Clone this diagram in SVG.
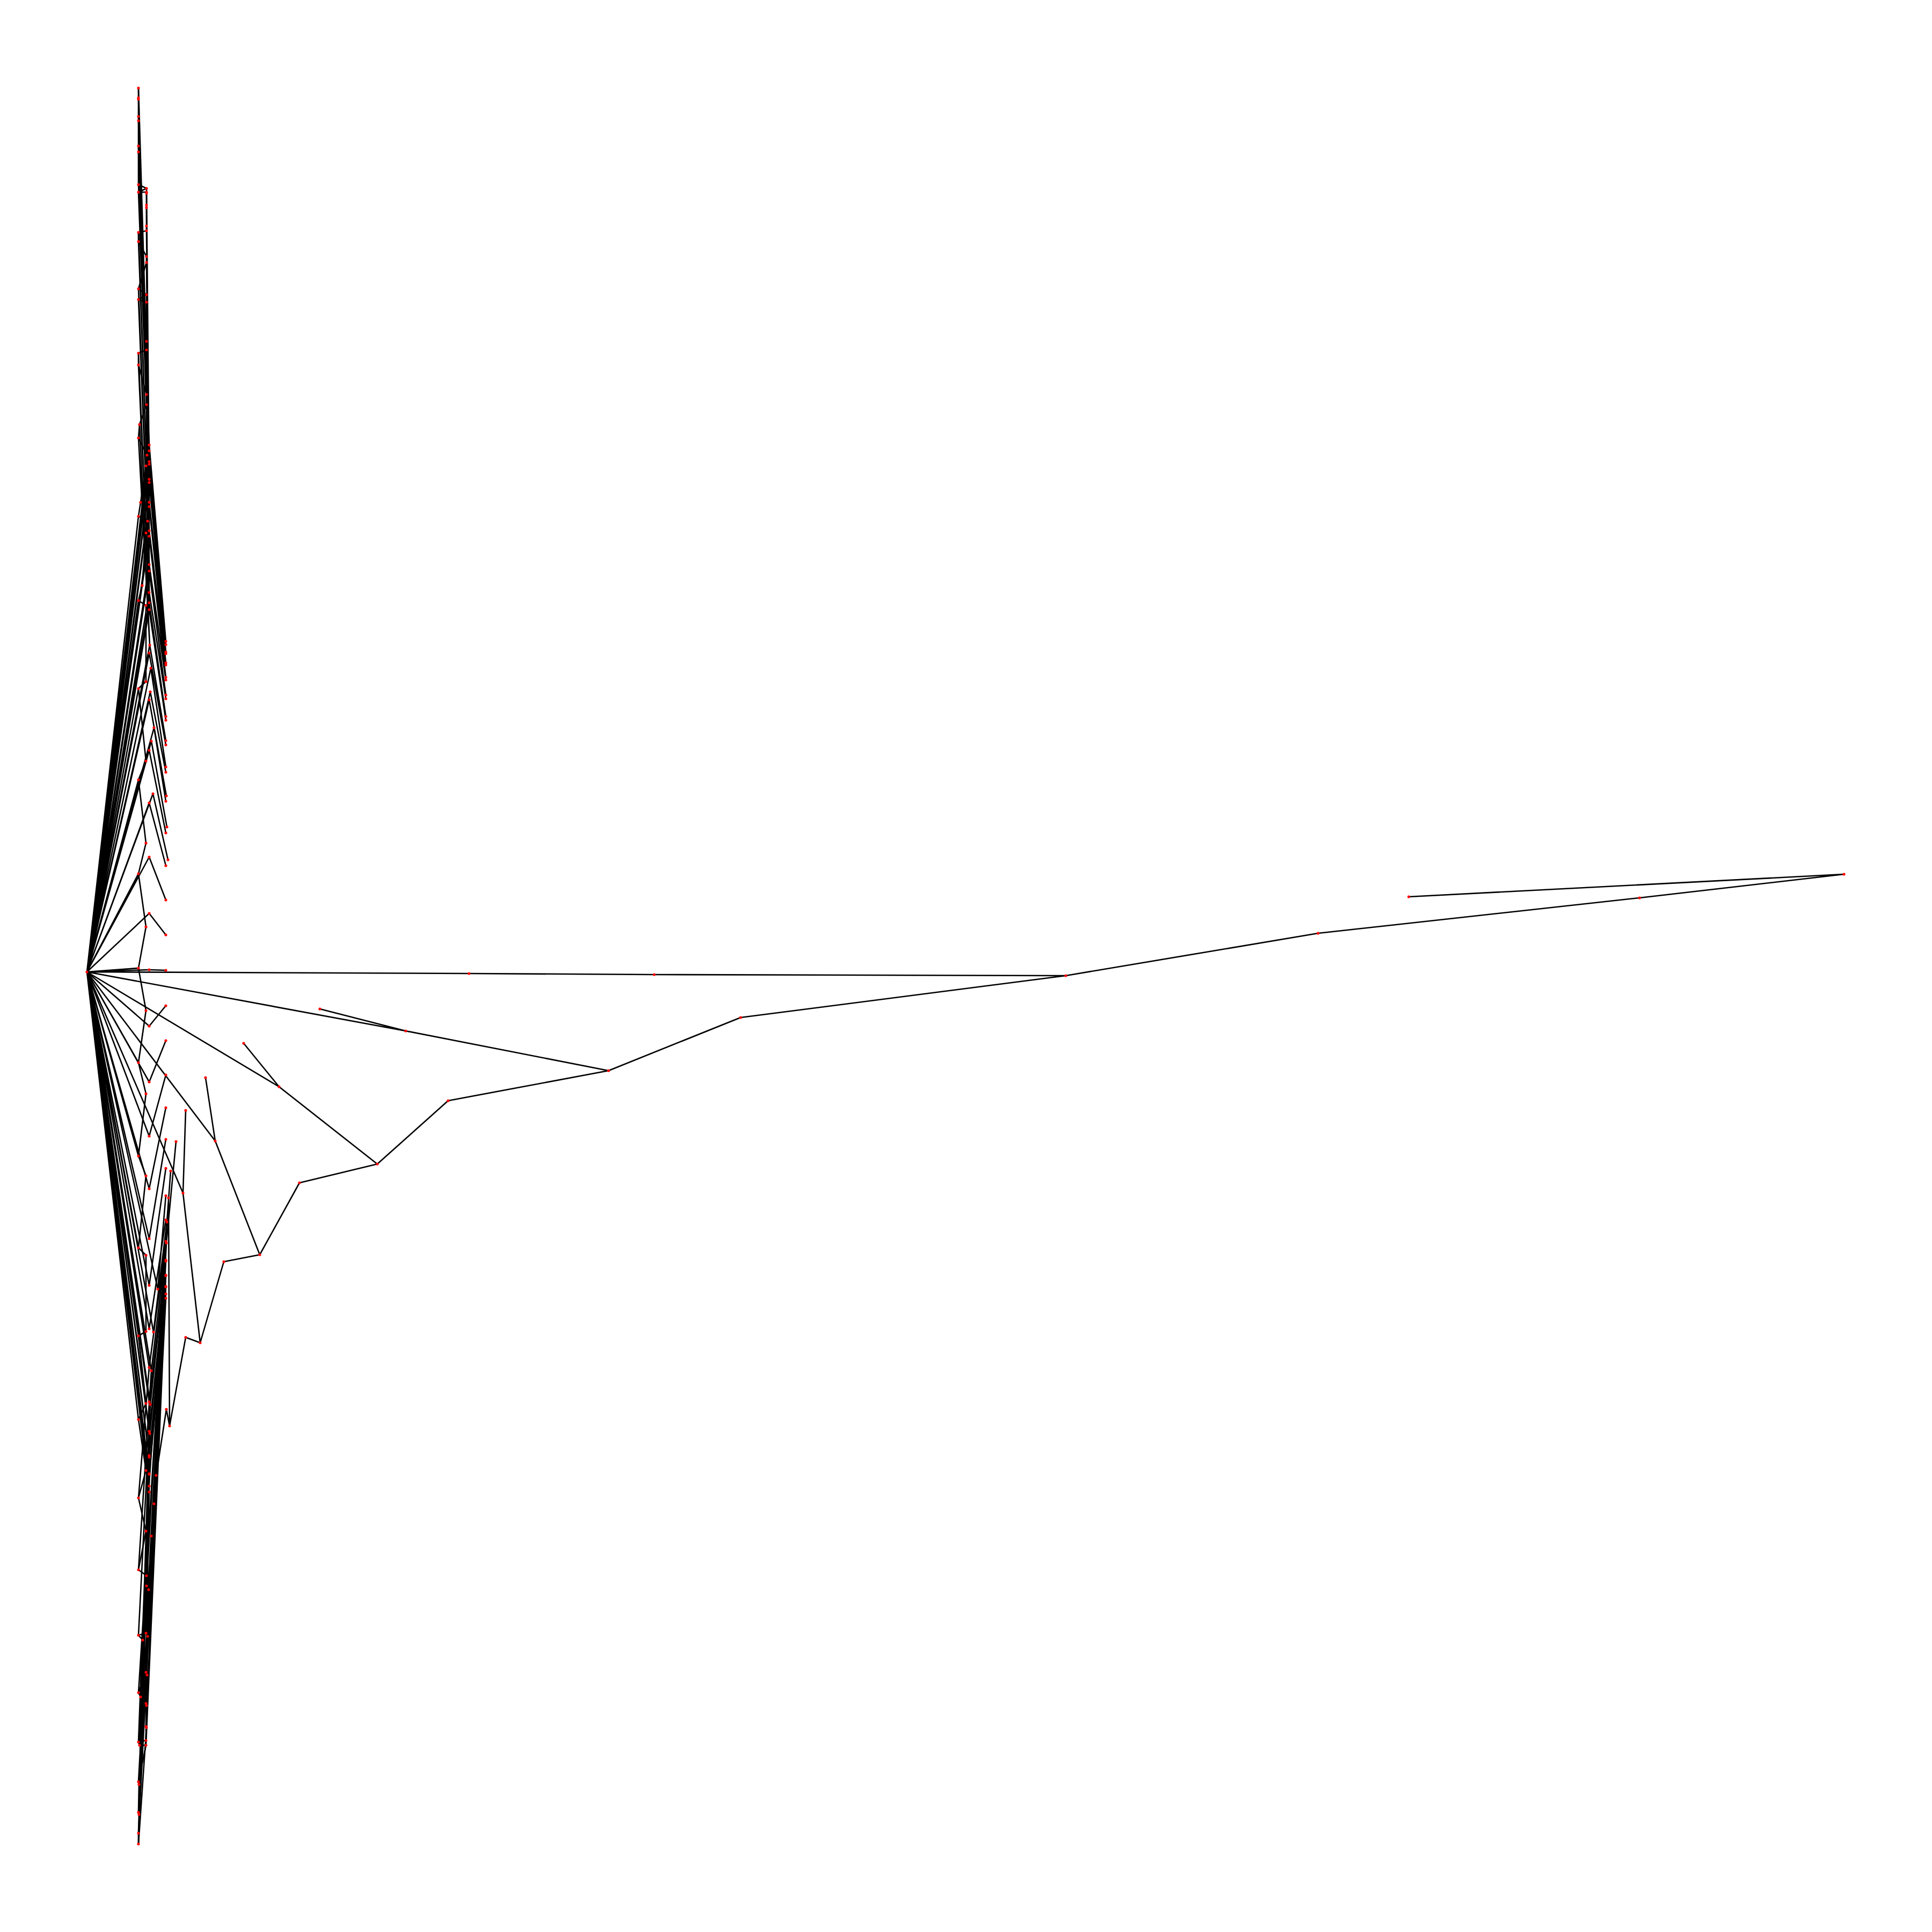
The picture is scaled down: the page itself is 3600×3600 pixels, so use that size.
<svg xmlns="http://www.w3.org/2000/svg" width="3600" height="3600" viewBox="0 0 3600 3600">
<style>
#edges path{stroke:#000;stroke-width:2.6;fill:none;stroke-linecap:round;stroke-linejoin:round}
#nodes circle{fill:#ff0000;stroke:none}
</style>
<rect width="3600" height="3600" fill="#ffffff"/>
<g id="edges">
<path d="M258 164L258 182L258 185L258 217L258 225L258 272L258 283L258 344L273 351L258 358L273 358L273 360L273 382L273 387L273 421L273 430L258 433L258 450L273 478L273 489L258 538L273 549L258 558L273 563L273 636L273 652L258 658L258 680L273 735L273 754L260 791L258 816L274 848L272 868L262 936L258 962L275 971L272 993L265 1091L258 1119L272 1128L272 1270L258 1283L272 1418L258 1453L272 1571L258 1628L272 1727L258 1804"/>
<path d="M258 1804L272 1883L258 1980L272 2038L258 2154L272 2191L258 2325L272 2339L272 2481L258 2489L272 2615L258 2645L272 2740L258 2791L272 2853L258 2925L273 2936L273 2955L272 3043L258 3047L266 3056L272 3116L258 3154L262 3162L272 3174L272 3217L272 3243L258 3246L260 3252L272 3252L258 3320L259 3325L258 3377L259 3381L258 3416L258 3436"/>
<path d="M162 1811L278 829M162 1811L278 840M162 1811L278 860M162 1811L278 865M162 1811L278 893M162 1811L278 899M162 1811L278 936M162 1811L278 944M162 1811L278 989M162 1811L278 999M162 1811L278 1052M162 1811L278 1064M162 1811L278 1104M162 1811L278 1123M162 1811L278 1136M162 1811L279 1202M162 1811L278 1217M162 1811L281 1245M162 1811L280 1289M162 1811L278 1304M162 1811L287 1356M162 1811L282 1381M162 1811L278 1398M162 1811L285 1479M162 1811L278 1496M162 1811L278 1597M162 1811L278 1702M162 1811L278 1807M162 1811L258 962M162 1811L258 1119M162 1811L258 1283M162 1811L258 1453M162 1811L258 1628M162 1811L258 1804"/>
<path d="M278 865L309 1195M278 893L309 1201M278 899L309 1215M278 936L309 1218M278 944L309 1235M278 989L309 1239M278 999L309 1262M278 1052L309 1267M278 1064L309 1295M278 1104L309 1302M278 1123L309 1335M278 1136L309 1342M279 1202L309 1380M278 1217L309 1388M281 1245L309 1429M280 1289L309 1439M278 1304L310 1483M287 1356L309 1493M282 1381L311 1541M278 1398L309 1552M285 1479L313 1602M278 1496L309 1613M278 1597L309 1677M278 1702L309 1742M278 1807L309 1808M278 829L309 1195M278 840L309 1201M278 860L309 1215"/>
<path d="M258 164L278 829M258 182L278 829M258 185L278 840M258 217L278 840M258 225L278 860M258 272L278 860M258 283L278 865M258 344L278 865M273 351L278 893M258 358L278 893M273 358L278 899M273 360L278 899M273 382L278 936M273 387L278 936M273 421L278 944M273 430L278 944M258 433L278 989M258 450L278 989M273 478L278 999M273 489L278 999M258 538L278 1052M273 549L278 1052M258 558L278 1064M273 563L278 1064M273 636L278 1104M273 652L278 1104M258 658L278 1123M258 680L278 1123M273 735L278 1136M273 754L278 1136M260 791L279 1202M258 816L279 1202"/>
<path d="M162 1811L278 1912M162 1811L278 2016M162 1811L278 2117M162 1811L278 2215M162 1811L278 2308M162 1811L278 2395M162 1811L294 2402M162 1811L278 2476M162 1811L286 2482M162 1811L278 2548M162 1811L282 2554M162 1811L278 2612M162 1811L280 2617M162 1811L278 2667M162 1811L279 2671M162 1811L278 2712M162 1811L278 2715M162 1811L278 2746M162 1811L278 2747M162 1811L278 2769M162 1811L278 2780M162 1811L258 1980M162 1811L258 2154M162 1811L258 2325M162 1811L258 2489M162 1811L258 2645"/>
<path d="M278 1912L309 1874M278 2016L309 1939M278 2117L309 2003M278 2215L309 2064M278 2308L309 2123M278 2395L309 2177M294 2402L309 2228M278 2476L309 2273M286 2482L311 2277M278 2548L309 2313M282 2554L310 2316M278 2612L309 2348M280 2617L309 2350M278 2667L309 2376M279 2671L309 2377M278 2712L309 2397M278 2715L309 2398M278 2746L309 2411M278 2747L309 2419"/>
<path d="M258 3436L278 2780M258 3416L309 2419M259 3381L278 2769M258 3377L309 2411M259 3325L278 2747M258 3320L309 2398M272 3252L309 2397M260 3252L278 2746M258 3246L278 2715M272 3243L309 2377M272 3217L309 2376M272 3174L278 2712M262 3162L279 2671M258 3154L309 2350M272 3116L309 2348M266 3056L278 2667M258 3047L280 2617M272 3043L310 2316M273 2955L309 2313M273 2936L278 2612M258 2925L282 2554M272 2853L311 2277M258 2791L278 2548"/>
<path d="M162 1811L401 2126M383 2008L401 2126M401 2126L484 2338M484 2338L417 2351M417 2351L373 2502M373 2502L346 2492M346 2492L316 2657M341 2223L373 2502M346 2069L341 2223M162 1811L341 2223M328 2127L310 2316M318 2182L311 2277M314 2232L316 2657L310 2626L291 2749L287 2802L282 2862L277 2962L275 3049L274 3121L273 3178L273 3219L258 3436"/>
<path d="M162 1811L874 1814L1219 1816L1986 1818M1986 1818L2456 1739L3055 1673L3436 1629L2625 1671M1986 1818L1380 1896L1134 1995M162 1811L756 1921L1134 1995M596 1880L756 1921M1134 1995L835 2051L703 2169L558 2204L484 2338M162 1811L520 2025L703 2169M454 1944L520 2025"/>
</g>
<g id="nodes">
<g id="hub"><circle cx="162" cy="1811" r="2.6"/></g>
<g id="u1"><circle cx="258" cy="164" r="2.6"/></g>
<g id="u2"><circle cx="258" cy="182" r="2.6"/></g>
<g id="u3"><circle cx="258" cy="185" r="2.6"/></g>
<g id="u4"><circle cx="258" cy="217" r="2.6"/></g>
<g id="u5"><circle cx="258" cy="225" r="2.6"/></g>
<g id="u6"><circle cx="258" cy="272" r="2.6"/></g>
<g id="u7"><circle cx="258" cy="283" r="2.6"/></g>
<g id="u8"><circle cx="258" cy="344" r="2.6"/></g>
<g id="u9"><circle cx="273" cy="351" r="2.6"/></g>
<g id="u10"><circle cx="258" cy="358" r="2.6"/></g>
<g id="u11"><circle cx="273" cy="358" r="2.6"/></g>
<g id="u12"><circle cx="273" cy="360" r="2.6"/></g>
<g id="u13"><circle cx="273" cy="382" r="2.6"/></g>
<g id="u14"><circle cx="273" cy="387" r="2.6"/></g>
<g id="u15"><circle cx="273" cy="421" r="2.6"/></g>
<g id="u16"><circle cx="273" cy="430" r="2.6"/></g>
<g id="u17"><circle cx="258" cy="433" r="2.6"/></g>
<g id="u18"><circle cx="258" cy="450" r="2.6"/></g>
<g id="u19"><circle cx="273" cy="478" r="2.6"/></g>
<g id="u20"><circle cx="273" cy="489" r="2.6"/></g>
<g id="u21"><circle cx="258" cy="538" r="2.6"/></g>
<g id="u22"><circle cx="273" cy="549" r="2.6"/></g>
<g id="u23"><circle cx="258" cy="558" r="2.6"/></g>
<g id="u24"><circle cx="273" cy="563" r="2.6"/></g>
<g id="u25"><circle cx="273" cy="636" r="2.6"/></g>
<g id="u26"><circle cx="273" cy="652" r="2.6"/></g>
<g id="u27"><circle cx="258" cy="658" r="2.6"/></g>
<g id="u28"><circle cx="258" cy="680" r="2.6"/></g>
<g id="u29"><circle cx="273" cy="735" r="2.6"/></g>
<g id="u30"><circle cx="273" cy="754" r="2.6"/></g>
<g id="u31"><circle cx="260" cy="791" r="2.6"/></g>
<g id="u32"><circle cx="258" cy="816" r="2.6"/></g>
<g id="u33"><circle cx="274" cy="848" r="2.6"/></g>
<g id="u34"><circle cx="272" cy="868" r="2.6"/></g>
<g id="u35"><circle cx="262" cy="936" r="2.6"/></g>
<g id="u36"><circle cx="258" cy="962" r="2.6"/></g>
<g id="u37"><circle cx="275" cy="971" r="2.6"/></g>
<g id="u38"><circle cx="272" cy="993" r="2.6"/></g>
<g id="u39"><circle cx="265" cy="1091" r="2.6"/></g>
<g id="u40"><circle cx="258" cy="1119" r="2.6"/></g>
<g id="u41"><circle cx="272" cy="1128" r="2.6"/></g>
<g id="u42"><circle cx="272" cy="1270" r="2.6"/></g>
<g id="u43"><circle cx="258" cy="1283" r="2.6"/></g>
<g id="u44"><circle cx="272" cy="1418" r="2.6"/></g>
<g id="u45"><circle cx="258" cy="1453" r="2.6"/></g>
<g id="u46"><circle cx="272" cy="1571" r="2.6"/></g>
<g id="u47"><circle cx="258" cy="1628" r="2.6"/></g>
<g id="u48"><circle cx="272" cy="1727" r="2.6"/></g>
<g id="u49"><circle cx="258" cy="1804" r="2.6"/></g>
<g id="uc1"><circle cx="278" cy="829" r="2.6"/></g>
<g id="uc2"><circle cx="278" cy="840" r="2.6"/></g>
<g id="uc3"><circle cx="278" cy="860" r="2.6"/></g>
<g id="uc4"><circle cx="278" cy="865" r="2.6"/></g>
<g id="uc5"><circle cx="278" cy="893" r="2.6"/></g>
<g id="uc6"><circle cx="278" cy="899" r="2.6"/></g>
<g id="uc7"><circle cx="278" cy="936" r="2.6"/></g>
<g id="uc8"><circle cx="278" cy="944" r="2.6"/></g>
<g id="uc9"><circle cx="278" cy="989" r="2.6"/></g>
<g id="uc10"><circle cx="278" cy="999" r="2.6"/></g>
<g id="uc11"><circle cx="278" cy="1052" r="2.6"/></g>
<g id="uc12"><circle cx="278" cy="1064" r="2.6"/></g>
<g id="uc13"><circle cx="278" cy="1104" r="2.6"/></g>
<g id="uc14"><circle cx="278" cy="1123" r="2.6"/></g>
<g id="uc15"><circle cx="278" cy="1136" r="2.6"/></g>
<g id="uc16"><circle cx="279" cy="1202" r="2.6"/></g>
<g id="uc17"><circle cx="278" cy="1217" r="2.6"/></g>
<g id="uc18"><circle cx="281" cy="1245" r="2.6"/></g>
<g id="uc19"><circle cx="280" cy="1289" r="2.6"/></g>
<g id="uc20"><circle cx="278" cy="1304" r="2.6"/></g>
<g id="uc21"><circle cx="287" cy="1356" r="2.6"/></g>
<g id="uc22"><circle cx="282" cy="1381" r="2.6"/></g>
<g id="uc23"><circle cx="278" cy="1398" r="2.6"/></g>
<g id="uc24"><circle cx="285" cy="1479" r="2.6"/></g>
<g id="uc25"><circle cx="278" cy="1496" r="2.6"/></g>
<g id="uc26"><circle cx="278" cy="1597" r="2.6"/></g>
<g id="uc27"><circle cx="278" cy="1702" r="2.6"/></g>
<g id="uc28"><circle cx="278" cy="1807" r="2.6"/></g>
<g id="ud1"><circle cx="309" cy="1195" r="2.6"/></g>
<g id="ud2"><circle cx="309" cy="1201" r="2.6"/></g>
<g id="ud3"><circle cx="309" cy="1215" r="2.6"/></g>
<g id="ud4"><circle cx="309" cy="1218" r="2.6"/></g>
<g id="ud5"><circle cx="309" cy="1235" r="2.6"/></g>
<g id="ud6"><circle cx="309" cy="1239" r="2.6"/></g>
<g id="ud7"><circle cx="309" cy="1262" r="2.6"/></g>
<g id="ud8"><circle cx="309" cy="1267" r="2.6"/></g>
<g id="ud9"><circle cx="309" cy="1295" r="2.6"/></g>
<g id="ud10"><circle cx="309" cy="1302" r="2.6"/></g>
<g id="ud11"><circle cx="309" cy="1335" r="2.6"/></g>
<g id="ud12"><circle cx="309" cy="1342" r="2.6"/></g>
<g id="ud13"><circle cx="309" cy="1380" r="2.6"/></g>
<g id="ud14"><circle cx="309" cy="1388" r="2.6"/></g>
<g id="ud15"><circle cx="309" cy="1429" r="2.6"/></g>
<g id="ud16"><circle cx="309" cy="1439" r="2.6"/></g>
<g id="ud17"><circle cx="310" cy="1483" r="2.6"/></g>
<g id="ud18"><circle cx="309" cy="1493" r="2.6"/></g>
<g id="ud19"><circle cx="311" cy="1541" r="2.6"/></g>
<g id="ud20"><circle cx="309" cy="1552" r="2.6"/></g>
<g id="ud21"><circle cx="313" cy="1602" r="2.6"/></g>
<g id="ud22"><circle cx="309" cy="1613" r="2.6"/></g>
<g id="ud23"><circle cx="309" cy="1677" r="2.6"/></g>
<g id="ud24"><circle cx="309" cy="1742" r="2.6"/></g>
<g id="ud25"><circle cx="309" cy="1808" r="2.6"/></g>
<g id="l1"><circle cx="272" cy="1883" r="2.6"/></g>
<g id="l2"><circle cx="258" cy="1980" r="2.6"/></g>
<g id="l3"><circle cx="272" cy="2038" r="2.6"/></g>
<g id="l4"><circle cx="258" cy="2154" r="2.6"/></g>
<g id="l5"><circle cx="272" cy="2191" r="2.6"/></g>
<g id="l6"><circle cx="258" cy="2325" r="2.6"/></g>
<g id="l7"><circle cx="272" cy="2339" r="2.6"/></g>
<g id="l8"><circle cx="272" cy="2481" r="2.6"/></g>
<g id="l9"><circle cx="258" cy="2489" r="2.6"/></g>
<g id="l10"><circle cx="272" cy="2615" r="2.6"/></g>
<g id="l11"><circle cx="258" cy="2645" r="2.6"/></g>
<g id="l12"><circle cx="272" cy="2740" r="2.6"/></g>
<g id="l13"><circle cx="258" cy="2791" r="2.6"/></g>
<g id="l14"><circle cx="272" cy="2853" r="2.6"/></g>
<g id="l15"><circle cx="258" cy="2925" r="2.6"/></g>
<g id="l16"><circle cx="273" cy="2936" r="2.6"/></g>
<g id="l17"><circle cx="273" cy="2955" r="2.6"/></g>
<g id="l18"><circle cx="272" cy="3043" r="2.6"/></g>
<g id="l19"><circle cx="258" cy="3047" r="2.6"/></g>
<g id="l20"><circle cx="266" cy="3056" r="2.6"/></g>
<g id="l21"><circle cx="272" cy="3116" r="2.6"/></g>
<g id="l22"><circle cx="258" cy="3154" r="2.6"/></g>
<g id="l23"><circle cx="262" cy="3162" r="2.6"/></g>
<g id="l24"><circle cx="272" cy="3174" r="2.6"/></g>
<g id="l25"><circle cx="272" cy="3217" r="2.6"/></g>
<g id="l26"><circle cx="272" cy="3243" r="2.6"/></g>
<g id="l27"><circle cx="258" cy="3246" r="2.6"/></g>
<g id="l28"><circle cx="260" cy="3252" r="2.6"/></g>
<g id="l29"><circle cx="272" cy="3252" r="2.6"/></g>
<g id="l30"><circle cx="258" cy="3320" r="2.6"/></g>
<g id="l31"><circle cx="259" cy="3325" r="2.6"/></g>
<g id="l32"><circle cx="258" cy="3377" r="2.6"/></g>
<g id="l33"><circle cx="259" cy="3381" r="2.6"/></g>
<g id="l34"><circle cx="258" cy="3416" r="2.6"/></g>
<g id="l35"><circle cx="258" cy="3436" r="2.6"/></g>
<g id="lc1"><circle cx="278" cy="1912" r="2.6"/></g>
<g id="lc2"><circle cx="278" cy="2016" r="2.6"/></g>
<g id="lc3"><circle cx="278" cy="2117" r="2.6"/></g>
<g id="lc4"><circle cx="278" cy="2215" r="2.6"/></g>
<g id="lc5"><circle cx="278" cy="2308" r="2.6"/></g>
<g id="lc6"><circle cx="278" cy="2395" r="2.6"/></g>
<g id="lc7"><circle cx="294" cy="2402" r="2.6"/></g>
<g id="lc8"><circle cx="278" cy="2476" r="2.6"/></g>
<g id="lc9"><circle cx="286" cy="2482" r="2.6"/></g>
<g id="lc10"><circle cx="278" cy="2548" r="2.6"/></g>
<g id="lc11"><circle cx="282" cy="2554" r="2.6"/></g>
<g id="lc12"><circle cx="278" cy="2612" r="2.6"/></g>
<g id="lc13"><circle cx="280" cy="2617" r="2.6"/></g>
<g id="lc14"><circle cx="278" cy="2667" r="2.6"/></g>
<g id="lc15"><circle cx="279" cy="2671" r="2.6"/></g>
<g id="lc16"><circle cx="278" cy="2712" r="2.6"/></g>
<g id="lc17"><circle cx="278" cy="2715" r="2.6"/></g>
<g id="lc18"><circle cx="278" cy="2746" r="2.6"/></g>
<g id="lc19"><circle cx="278" cy="2747" r="2.6"/></g>
<g id="lc20"><circle cx="278" cy="2769" r="2.6"/></g>
<g id="lc21"><circle cx="278" cy="2780" r="2.6"/></g>
<g id="ld1"><circle cx="309" cy="1874" r="2.6"/></g>
<g id="ld2"><circle cx="309" cy="1939" r="2.6"/></g>
<g id="ld3"><circle cx="309" cy="2003" r="2.6"/></g>
<g id="ld4"><circle cx="309" cy="2064" r="2.6"/></g>
<g id="ld5"><circle cx="309" cy="2123" r="2.6"/></g>
<g id="ld6"><circle cx="309" cy="2177" r="2.6"/></g>
<g id="ld7"><circle cx="309" cy="2228" r="2.6"/></g>
<g id="ld8"><circle cx="309" cy="2273" r="2.6"/></g>
<g id="ld9"><circle cx="311" cy="2277" r="2.6"/></g>
<g id="ld10"><circle cx="309" cy="2313" r="2.6"/></g>
<g id="ld11"><circle cx="310" cy="2316" r="2.6"/></g>
<g id="ld12"><circle cx="309" cy="2348" r="2.6"/></g>
<g id="ld13"><circle cx="309" cy="2350" r="2.6"/></g>
<g id="ld14"><circle cx="309" cy="2376" r="2.6"/></g>
<g id="ld15"><circle cx="309" cy="2377" r="2.6"/></g>
<g id="ld16"><circle cx="309" cy="2397" r="2.6"/></g>
<g id="ld17"><circle cx="309" cy="2398" r="2.6"/></g>
<g id="ld18"><circle cx="309" cy="2411" r="2.6"/></g>
<g id="ld19"><circle cx="309" cy="2419" r="2.6"/></g>
<g id="s1"><circle cx="383" cy="2008" r="2.6"/></g>
<g id="s2"><circle cx="401" cy="2126" r="2.6"/></g>
<g id="s3"><circle cx="484" cy="2338" r="2.6"/></g>
<g id="s4"><circle cx="417" cy="2351" r="2.6"/></g>
<g id="s5"><circle cx="373" cy="2502" r="2.6"/></g>
<g id="s6"><circle cx="346" cy="2492" r="2.6"/></g>
<g id="s7"><circle cx="346" cy="2069" r="2.6"/></g>
<g id="s8"><circle cx="341" cy="2223" r="2.6"/></g>
<g id="s9"><circle cx="328" cy="2127" r="2.6"/></g>
<g id="s10"><circle cx="318" cy="2182" r="2.6"/></g>
<g id="s11"><circle cx="314" cy="2232" r="2.6"/></g>
<g id="s12"><circle cx="316" cy="2657" r="2.6"/></g>
<g id="s13"><circle cx="310" cy="2626" r="2.6"/></g>
<g id="s14"><circle cx="291" cy="2749" r="2.6"/></g>
<g id="s15"><circle cx="287" cy="2802" r="2.6"/></g>
<g id="s16"><circle cx="282" cy="2862" r="2.6"/></g>
<g id="s17"><circle cx="277" cy="2962" r="2.6"/></g>
<g id="s18"><circle cx="275" cy="3049" r="2.6"/></g>
<g id="s19"><circle cx="274" cy="3121" r="2.6"/></g>
<g id="s20"><circle cx="273" cy="3178" r="2.6"/></g>
<g id="s21"><circle cx="273" cy="3219" r="2.6"/></g>
<g id="m1"><circle cx="596" cy="1880" r="2.6"/></g>
<g id="m2"><circle cx="756" cy="1921" r="2.6"/></g>
<g id="m3"><circle cx="1134" cy="1995" r="2.6"/></g>
<g id="m4"><circle cx="1380" cy="1896" r="2.6"/></g>
<g id="m5"><circle cx="454" cy="1944" r="2.6"/></g>
<g id="m6"><circle cx="520" cy="2025" r="2.6"/></g>
<g id="m7"><circle cx="835" cy="2051" r="2.6"/></g>
<g id="m8"><circle cx="703" cy="2169" r="2.6"/></g>
<g id="m9"><circle cx="558" cy="2204" r="2.6"/></g>
<g id="m10"><circle cx="874" cy="1814" r="2.6"/></g>
<g id="m11"><circle cx="1219" cy="1816" r="2.6"/></g>
<g id="r1"><circle cx="1986" cy="1818" r="2.6"/></g>
<g id="r2"><circle cx="2456" cy="1739" r="2.6"/></g>
<g id="r3"><circle cx="3055" cy="1673" r="2.6"/></g>
<g id="r4"><circle cx="3436" cy="1629" r="2.6"/></g>
<g id="r5"><circle cx="2625" cy="1671" r="2.6"/></g>
</g>
</svg>
